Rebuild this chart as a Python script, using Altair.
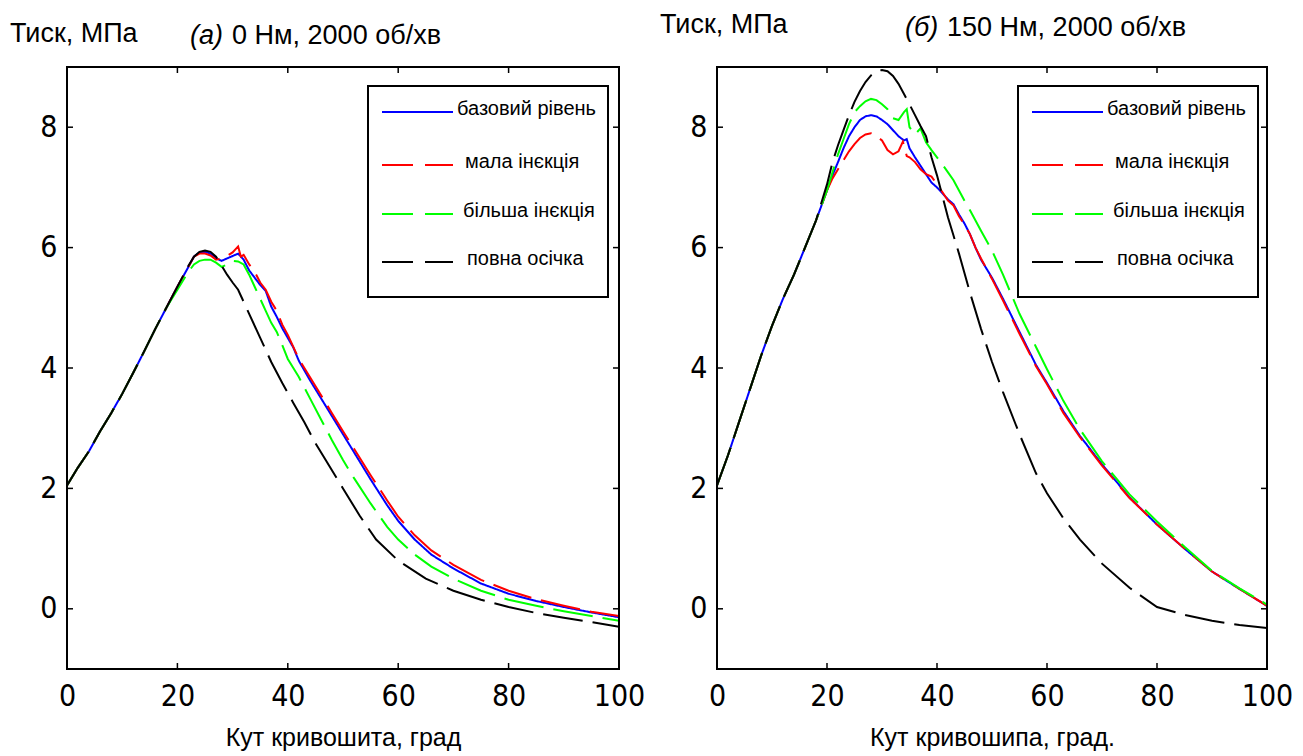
import altair as alt
import pandas as pd

SERIES = ["базовий рівень", "мала інєкція", "більша інєкція", "повна осічка"]
COLORS = ["#0000ff", "#ff0000", "#00ff00", "#000000"]
PLOT_DASH = [[1, 0], [40, 10], [40, 10], [40, 10]]
LEGEND_DASH = [[1, 0], [31, 12], [31, 12], [31, 12]]
X_TICKS = [0, 20, 40, 60, 80, 100]
Y_TICKS = [0, 2, 4, 6, 8]
X_DOMAIN = [0, 100]
Y_DOMAIN = [-1, 9]

# ---------- panel (а): 0 Нм ----------
a_rise_x = [0, 2, 4, 6, 8, 10, 12, 14, 16, 18]
a_rise_y = [2.05, 2.35, 2.62, 2.95, 3.25, 3.57, 3.92, 4.28, 4.65, 5.0]

a_blue_x = [20, 22, 23, 24, 25, 26, 27, 28, 29, 30, 31, 32, 33, 34, 35, 36, 37, 38, 39, 40, 41, 42, 44, 46, 48, 50, 52, 55, 58, 60, 63, 66, 70, 75, 80, 85, 90, 95, 100]
a_blue_y = [5.35, 5.68, 5.85, 5.92, 5.93, 5.9, 5.82, 5.78, 5.82, 5.86, 5.9, 5.8, 5.62, 5.5, 5.38, 5.28, 5.02, 4.85, 4.66, 4.5, 4.34, 4.12, 3.8, 3.5, 3.2, 2.9, 2.6, 2.15, 1.72, 1.46, 1.15, 0.9, 0.67, 0.42, 0.25, 0.13, 0.03, -0.06, -0.14]

a_red_x = [20, 22, 23, 24, 25, 26, 27, 28, 29, 30, 31, 31.5, 32, 33, 34, 35, 36, 37, 38, 39, 40, 41, 42, 44, 46, 48, 50, 52, 55, 58, 60, 63, 66, 70, 75, 80, 85, 90, 95, 100]
a_red_y = [5.35, 5.68, 5.85, 5.9, 5.9, 5.87, 5.8, 5.82, 5.86, 5.92, 6.02, 5.85, 5.88, 5.72, 5.6, 5.42, 5.3, 5.1, 4.95, 4.72, 4.55, 4.35, 4.15, 3.85, 3.55, 3.25, 2.95, 2.66, 2.22, 1.8, 1.53, 1.22, 0.97, 0.73, 0.48, 0.3, 0.16, 0.05, -0.05, -0.12]

a_green_x = [20, 22, 23, 24, 25, 26, 27, 28, 29, 30, 31, 32, 33, 34, 35, 36, 37, 38, 39, 40, 41, 42, 44, 46, 48, 50, 52, 55, 58, 60, 63, 66, 70, 75, 80, 85, 90, 95, 100]
a_green_y = [5.3, 5.6, 5.72, 5.78, 5.8, 5.8, 5.75, 5.68, 5.72, 5.78, 5.77, 5.72, 5.55, 5.35, 5.15, 4.95, 4.75, 4.6, 4.38, 4.15, 4.0, 3.85, 3.5, 3.15, 2.8, 2.47, 2.17, 1.75, 1.36, 1.15, 0.9, 0.7, 0.5, 0.3, 0.15, 0.05, -0.04, -0.12, -0.2]

a_black_x = [20, 22, 23, 24, 25, 26, 27, 28, 29, 30, 31, 33, 35, 37, 39, 41, 43, 45, 47, 50, 53, 56, 60, 65, 70, 75, 80, 85, 90, 95, 100]
a_black_y = [5.35, 5.7, 5.85, 5.93, 5.95, 5.93, 5.85, 5.7, 5.55, 5.42, 5.3, 4.9, 4.5, 4.1, 3.75, 3.42, 3.1, 2.75, 2.45, 2.0, 1.55, 1.15, 0.8, 0.5, 0.3, 0.15, 0.03, -0.07, -0.15, -0.22, -0.3]

# ---------- panel (б): 150 Нм ----------
b_rise_x = [0, 2, 4, 6, 8, 10, 12, 14, 16, 18]
b_rise_y = [2.05, 2.55, 3.1, 3.65, 4.2, 4.7, 5.15, 5.55, 6.0, 6.45]

b_blue_x = [20, 21, 22, 23, 24, 25, 26, 27, 28, 29, 30, 31, 32, 33, 34, 34.5, 35, 36, 37, 38, 39, 40, 41, 42, 43, 44, 45, 46, 47, 48, 50, 52, 55, 58, 60, 63, 66, 70, 75, 80, 85, 90, 95, 100]
b_blue_y = [6.95, 7.2, 7.42, 7.65, 7.85, 8.0, 8.12, 8.18, 8.2, 8.18, 8.12, 8.05, 7.95, 7.85, 7.78, 7.8, 7.65, 7.5, 7.36, 7.22, 7.08, 7.0, 6.9, 6.8, 6.72, 6.55, 6.4, 6.22, 6.0, 5.8, 5.5, 5.15, 4.6, 4.05, 3.75, 3.28, 2.87, 2.4, 1.85, 1.4, 1.0, 0.62, 0.33, 0.05]

b_red_x = [20, 21, 22, 23, 24, 25, 26, 27, 28, 29, 30, 31, 32, 33, 33.8, 34.5, 35, 36, 37, 38, 39, 40, 41, 42, 43, 44, 45, 46, 47, 48, 50, 52, 55, 58, 60, 63, 66, 70, 75, 80, 85, 90, 95, 100]
b_red_y = [6.95, 7.15, 7.3, 7.45, 7.6, 7.72, 7.82, 7.88, 7.9, 7.85, 7.78, 7.62, 7.55, 7.6, 7.76, 7.52, 7.5, 7.42, 7.3, 7.22, 7.18, 7.05, 6.92, 6.78, 6.7, 6.52, 6.38, 6.22, 6.0, 5.82, 5.48, 5.12, 4.57, 4.03, 3.73, 3.25, 2.85, 2.38, 1.84, 1.4, 1.0, 0.62, 0.33, 0.05]

b_green_x = [20, 21, 22, 23, 24, 25, 26, 27, 28, 29, 30, 31, 32, 33, 34, 34.5, 35, 36, 37, 38, 39, 40, 41, 42, 43, 44, 45, 46, 47, 48, 50, 52, 55, 58, 60, 63, 66, 70, 75, 80, 85, 90, 95, 100]
b_green_y = [6.95, 7.25, 7.55, 7.8, 8.05, 8.25, 8.35, 8.43, 8.47, 8.45, 8.38, 8.3, 8.15, 8.12, 8.25, 8.3, 8.0, 7.88, 7.98, 7.75, 7.62, 7.5, 7.38, 7.25, 7.12, 6.95, 6.78, 6.62, 6.45, 6.28, 5.95, 5.55, 4.9, 4.35, 3.98, 3.45, 2.98, 2.45, 1.9, 1.45, 1.03, 0.63, 0.34, 0.07]

b_black_x = [20, 21, 22, 23, 24, 25, 26, 27, 28, 29, 30, 31, 32, 33, 34, 35, 36, 37, 38, 39, 40, 41, 42, 43, 44, 46, 48, 50, 52, 55, 58, 60, 63, 66, 70, 75, 80, 85, 90, 95, 100]
b_black_y = [7.05, 7.42, 7.7, 7.95, 8.2, 8.42, 8.6, 8.75, 8.86, 8.93, 8.95, 8.93, 8.85, 8.72, 8.55, 8.38, 8.2, 8.02, 7.85, 7.5, 7.2, 6.85, 6.5, 6.2, 5.9, 5.25, 4.65, 4.1, 3.6, 2.9, 2.25, 1.92, 1.5, 1.15, 0.75, 0.35, 0.03, -0.1, -0.2, -0.27, -0.32]


def build_frame(rise_x, rise_y, tails):
    rows = []
    for name, (tx, ty) in zip(SERIES, tails):
        for xv, yv in zip(rise_x + tx, rise_y + ty):
            rows.append({"x": xv, "y": yv, "series": name})
    return pd.DataFrame(rows)


df_a = build_frame(a_rise_x, a_rise_y, [(a_blue_x, a_blue_y), (a_red_x, a_red_y),
                                        (a_green_x, a_green_y), (a_black_x, a_black_y)])
df_b = build_frame(b_rise_x, b_rise_y, [(b_blue_x, b_blue_y), (b_red_x, b_red_y),
                                        (b_green_x, b_green_y), (b_black_x, b_black_y)])

TICK_FONT = "Liberation Sans Narrow, Arial Narrow, DejaVu Sans Condensed, sans-serif"
TEXT_FONT = "Liberation Sans, Arial, sans-serif"
H = 602
TL = 6  # inward tick length
one = pd.DataFrame({"k": [0]})


def panel(df, W, italic_part, rest_part, xtitle, ylab_y, title_y, title_x, rest_dx):
    xs = alt.Scale(domain=X_DOMAIN, nice=False, zero=False)
    ys = alt.Scale(domain=Y_DOMAIN, nice=False, zero=False)
    xaxis = alt.Axis(values=X_TICKS, ticks=False, domain=False, grid=False,
                     labelFont=TICK_FONT, labelFontSize=30, labelPadding=12,
                     labelFlush=False, labelOverlap=False,
                     labelColor="black", title=xtitle, titleFont=TEXT_FONT,
                     titleFontSize=25, titleFontWeight="normal", titleColor="black",
                     titlePadding=14)
    yaxis = alt.Axis(values=Y_TICKS, ticks=False, domain=False, grid=False,
                     labelFont=TICK_FONT, labelFontSize=30, labelPadding=10,
                     labelFlush=False, labelOverlap=False,
                     labelColor="black", title=None)
    lines = alt.Chart(df).mark_line(strokeWidth=2, clip=True).encode(
        x=alt.X("x:Q", scale=xs, axis=xaxis),
        y=alt.Y("y:Q", scale=ys, axis=yaxis),
        color=alt.Color("series:N", scale=alt.Scale(domain=SERIES, range=COLORS), legend=None),
        strokeDash=alt.StrokeDash("series:N", scale=alt.Scale(domain=SERIES, range=PLOT_DASH),
                                  legend=None),
    )
    xt = pd.DataFrame({"x": X_TICKS})
    yt = pd.DataFrame({"y": Y_TICKS})
    tb = alt.Chart(xt).mark_rule(color="black", strokeWidth=1.5).encode(
        x=alt.X("x:Q", scale=xs, axis=xaxis), y=alt.value(H), y2=alt.value(H - TL))
    tt = alt.Chart(xt).mark_rule(color="black", strokeWidth=1.5).encode(
        x=alt.X("x:Q", scale=xs, axis=xaxis), y=alt.value(0), y2=alt.value(TL))
    tlft = alt.Chart(yt).mark_rule(color="black", strokeWidth=1.5).encode(
        y=alt.Y("y:Q", scale=ys, axis=yaxis), x=alt.value(0), x2=alt.value(TL))
    trgt = alt.Chart(yt).mark_rule(color="black", strokeWidth=1.5).encode(
        y=alt.Y("y:Q", scale=ys, axis=yaxis), x=alt.value(W), x2=alt.value(W - TL))
    frame = alt.Chart(one).mark_rect(fill="white", fillOpacity=0, stroke="black",
                                     strokeWidth=2).encode(
        x=alt.value(0), x2=alt.value(W), y=alt.value(0), y2=alt.value(H))

    layers = [lines, tb, tt, tlft, trgt, frame]
    # legend box
    layers.append(alt.Chart(one).mark_rect(fill="white", stroke="black", strokeWidth=2).encode(
        x=alt.value(301), x2=alt.value(541), y=alt.value(19), y2=alt.value(230)))
    row_y = [45, 98, 147, 195]
    text_x = [390, 398, 396, 400]
    for name, col, dash, ry, tx in zip(SERIES, COLORS, LEGEND_DASH, row_y, text_x):
        layers.append(alt.Chart(one).mark_rule(color=col, strokeWidth=2, strokeDash=dash).encode(
            x=alt.value(315), x2=alt.value(386), y=alt.value(ry)))
        layers.append(alt.Chart(one).mark_text(text=name, align="left", baseline="middle",
                                               font=TEXT_FONT, fontSize=20, color="black").encode(
            x=alt.value(tx), y=alt.value(ry - 3)))
    # titles above the plot
    layers.append(alt.Chart(one).mark_text(text="Тиск, МПа", align="left", baseline="middle",
                                           font=TEXT_FONT, fontSize=27, color="black").encode(
        x=alt.value(-57), y=alt.value(ylab_y)))
    layers.append(alt.Chart(one).mark_text(text=italic_part, align="left", baseline="middle",
                                           font=TEXT_FONT, fontSize=27, fontStyle="italic",
                                           color="black").encode(
        x=alt.value(title_x), y=alt.value(title_y)))
    layers.append(alt.Chart(one).mark_text(text=rest_part, align="left", baseline="middle",
                                           font=TEXT_FONT, fontSize=27, color="black").encode(
        x=alt.value(title_x + rest_dx), y=alt.value(title_y)))
    return alt.layer(*layers).properties(width=W, height=H)


left = panel(df_a, 552, "(а)", "0 Нм, 2000 об/хв", "Кут кривошита, град", -33, -31, 123, 42)
right = panel(df_b, 550, "(б)", "150 Нм, 2000 об/хв", "Кут кривошипа, град.", -42, -39, 188, 42)

chart = alt.hconcat(left, right, spacing=98, bounds="flush").properties(
    padding={"left": 10, "top": 11, "right": 10, "bottom": 5},
    background="white",
).configure_view(stroke=None)

chart.save("out.html", embed_options={"renderer": "svg", "actions": False})
